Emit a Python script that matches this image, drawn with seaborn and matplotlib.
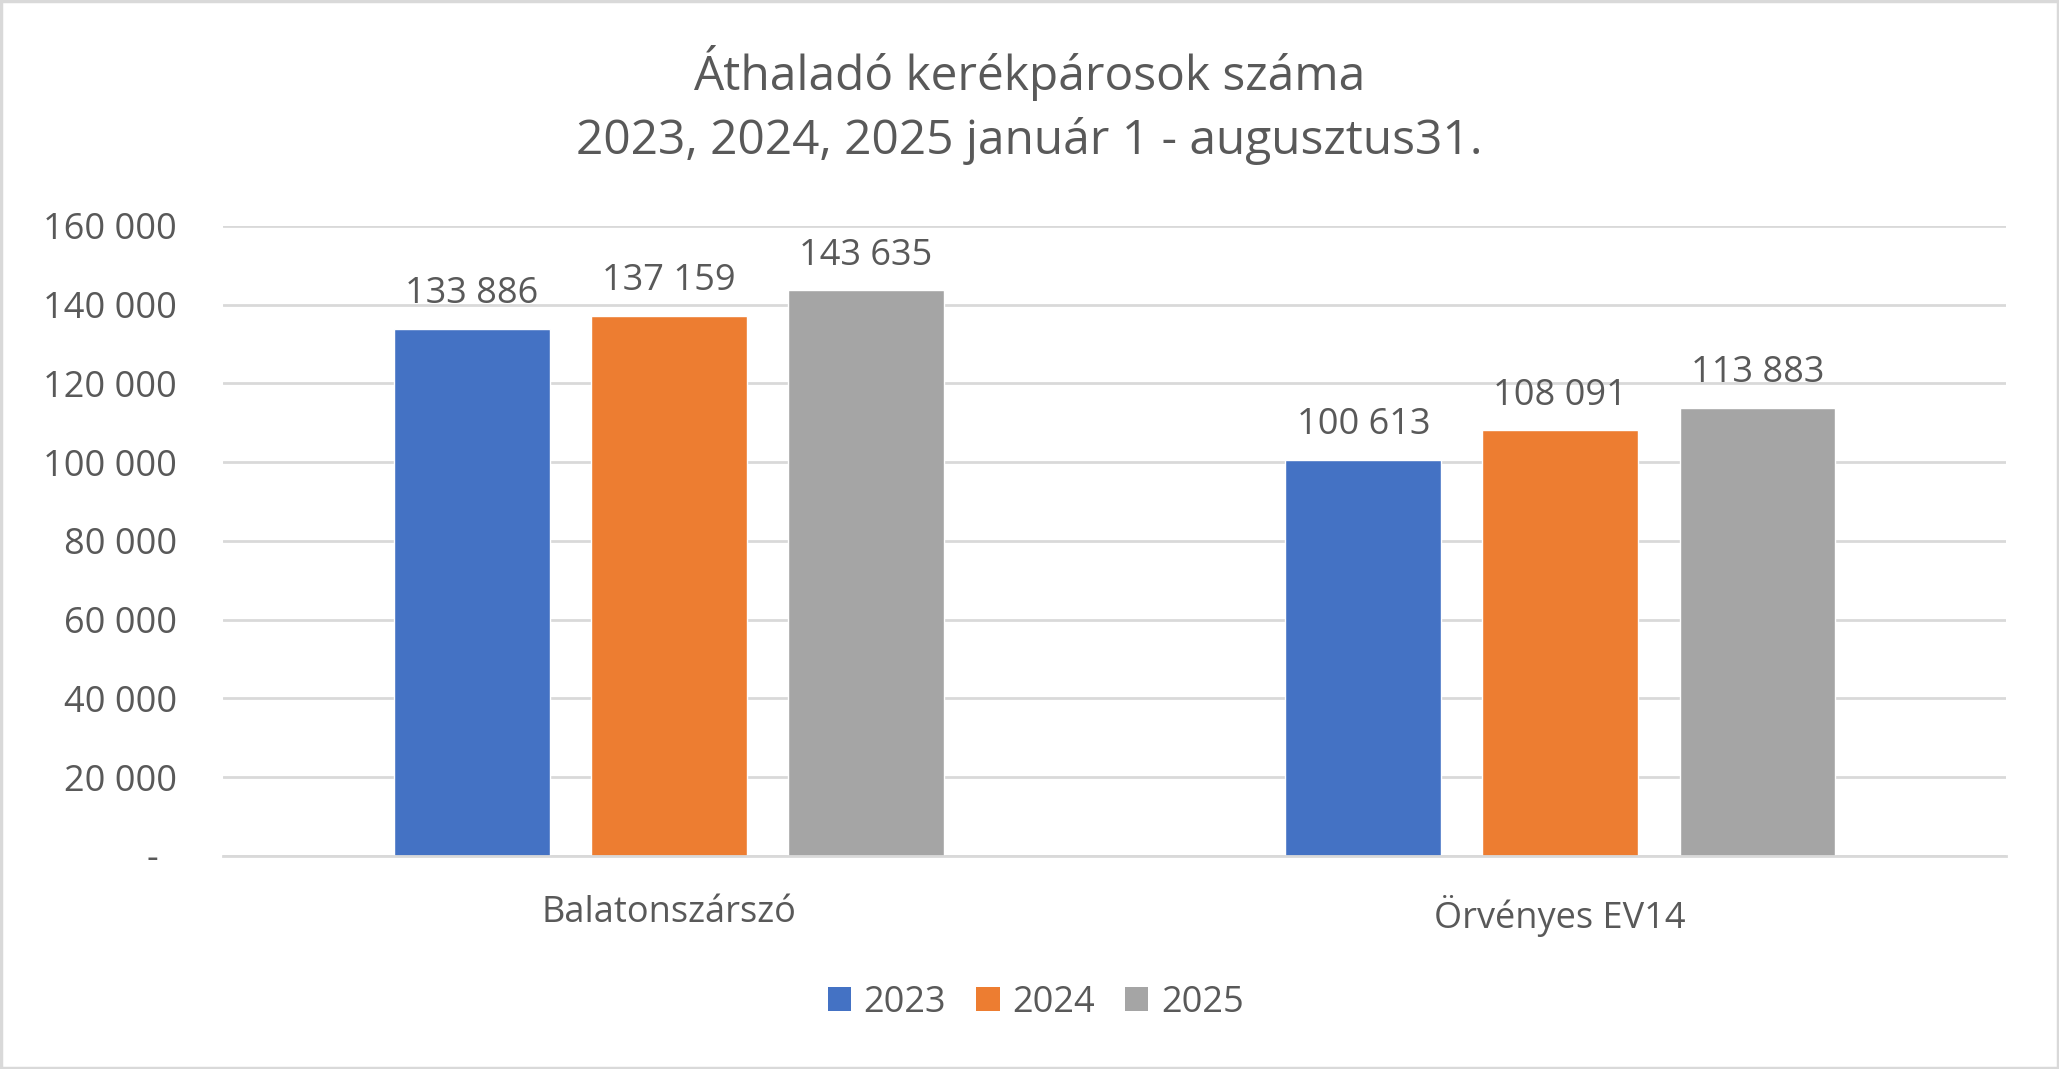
import matplotlib
matplotlib.use("Agg")
import matplotlib.pyplot as plt
import seaborn as sns
import pandas as pd
from matplotlib.patches import Rectangle, Patch

sites = ["Balatonszárszó", "Örvényes EV14"]
years = ["2023", "2024", "2025"]
values_2023 = [133886, 100613]
values_2024 = [137159, 108091]
values_2025 = [143635, 113883]
yticks = [0, 20000, 40000, 60000, 80000, 100000, 120000, 140000, 160000]
title = "Áthaladó kerékpárosok száma\n2023, 2024, 2025 január 1 - augusztus31."
colors = ["#4472C4", "#ED7D31", "#A5A5A5"]
text_color = "#595959"

rows = []
for yr, vals in zip(years, [values_2023, values_2024, values_2025]):
    for s, v in zip(sites, vals):
        rows.append({"site": s, "year": yr, "value": v})
df = pd.DataFrame(rows)

sns.set_theme(style="white")
plt.rcParams["font.family"] = ["Open Sans", "DejaVu Sans"]

fig = plt.figure(figsize=(20.59, 10.69), dpi=100)
ax = fig.add_axes([0.1083, 0.1993, 0.8660, 0.5893])

sns.barplot(data=df, x="site", y="value", hue="year", hue_order=years,
            palette=colors, width=0.663, gap=0.21, ax=ax, legend=False,
            saturation=1, errorbar=None)

def fmt(v):
    return f"{int(v):,}".replace(",", " ") if v else "-  "

for cont in ax.containers:
    ax.bar_label(cont, labels=[fmt(b.get_height()) for b in cont],
                 padding=12, fontsize=26, color=text_color)

ax.set_xlim(-0.5, 1.5)
ax.set_ylim(0, 160000)
ax.set_yticks(yticks)
ax.set_yticklabels([fmt(t) for t in yticks])
ax.yaxis.grid(True, color="#D9D9D9", linewidth=2)
ax.set_axisbelow(True)
for sp in ["top", "right", "left"]:
    ax.spines[sp].set_visible(False)
ax.spines["bottom"].set_color("#D9D9D9")
ax.spines["bottom"].set_linewidth(2)
ax.tick_params(axis="y", length=0, pad=33, labelsize=26, labelcolor=text_color)
ax.tick_params(axis="x", length=0, pad=28, labelsize=26, labelcolor=text_color)
ax.set_xlabel("")
ax.set_ylabel("")

fig.suptitle(title, y=0.9017, va="center", fontsize=34.5, color=text_color,
             linespacing=1.44)

handles = [Patch(facecolor=c, edgecolor="none") for c in colors]
fig.legend(handles, years, loc="center", bbox_to_anchor=(0.503, 0.062), ncol=3,
           frameon=False, fontsize=26, labelcolor=text_color,
           handlelength=0.65, handleheight=0.65, handletextpad=0.35, columnspacing=0.83)

fig.patches.append(Rectangle((0.0007, 0.0012), 0.9986, 0.9976, transform=fig.transFigure,
                             fill=False, edgecolor="#D9D9D9", linewidth=2.5))

fig.savefig("out.png", dpi=100)
